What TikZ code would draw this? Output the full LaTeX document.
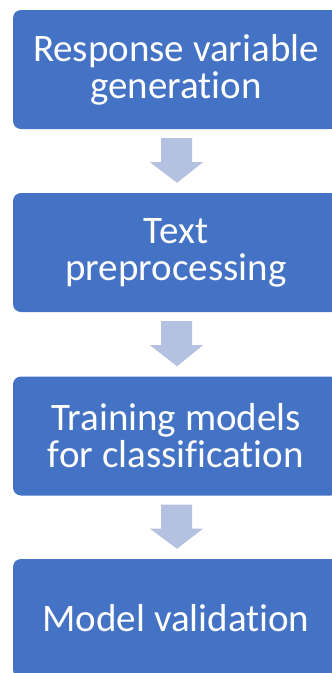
\documentclass[tikz,border=0pt]{standalone}
\usepackage{fontspec}
\setmainfont[Ligatures=NoCommon,RawFeature={-liga;-clig;-dlig}]{Carlito}
\usetikzlibrary{calc}
\definecolor{boxc}{HTML}{4472C4}
\definecolor{arrc}{HTML}{B4C1E1}
\newcommand{\tiNL}{t\kern0pt i}
\begin{document}
\begin{tikzpicture}[x=1pt,y=-1pt,
  stepbox/.style={fill=boxc, rounded corners=8pt, minimum width=326pt, minimum height=119pt,
    text=white, align=center, inner sep=0pt, font=\fontsize{39}{37}\selectfont},
  flowarrow/.style={fill=arrc}]
\useasboundingbox (0,0) rectangle (332,673);
\node[stepbox] (b1) at (176,69.5) {Response variable\\genera\tiNL on};
\node[stepbox] (b2) at (176,252.5) {Text\\preprocessing};
\node[stepbox] (b3) at (176,436) {Training models\\for classifica\tiNL on};
\node[stepbox] (b4) at (176,618.5) {Model valida\tiNL on};
\foreach \a/\b in {b1/b2,b2/b3,b3/b4}{
  \fill[flowarrow] ($(\a.south)+(-15,9)$) -- ($(\a.south)+(16,9)$) -- ($(\a.south)+(16,33)$)
    -- ($(\a.south)+(27,33)$) -- ($(\b.north)+(1,-10)$) -- ($(\a.south)+(-26,33)$)
    -- ($(\a.south)+(-15,33)$) -- cycle;
}
\end{tikzpicture}
\end{document}
